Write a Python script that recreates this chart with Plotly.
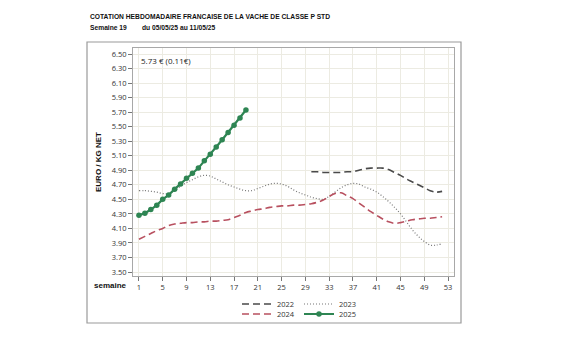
import plotly.graph_objects as go

weeks_2022 = list(range(30, 53))
vals_2022 = [4.88, 4.88, 4.87, 4.87, 4.87, 4.87, 4.88, 4.88, 4.90, 4.92, 4.93, 4.93, 4.93,
             4.91, 4.87, 4.83, 4.78, 4.74, 4.70, 4.66, 4.62, 4.60, 4.61]

weeks_2023 = list(range(1, 53))
vals_2023 = [4.62, 4.62, 4.61, 4.60, 4.58, 4.58, 4.62, 4.68, 4.73, 4.77, 4.81, 4.83, 4.82,
             4.78, 4.74, 4.70, 4.67, 4.64, 4.62, 4.62, 4.65, 4.68, 4.71, 4.72, 4.71, 4.68,
             4.63, 4.59, 4.56, 4.53, 4.51, 4.50, 4.54, 4.60, 4.66, 4.70, 4.72, 4.71, 4.67,
             4.64, 4.60, 4.54, 4.47, 4.39, 4.30, 4.19, 4.08, 3.99, 3.92, 3.87, 3.87, 3.89]

weeks_2024 = list(range(1, 53))
vals_2024 = [3.95, 3.99, 4.03, 4.07, 4.10, 4.14, 4.16, 4.17, 4.18, 4.18, 4.19, 4.19, 4.20,
             4.20, 4.21, 4.22, 4.25, 4.28, 4.32, 4.34, 4.36, 4.37, 4.39, 4.40, 4.41, 4.41,
             4.42, 4.42, 4.43, 4.44, 4.46, 4.49, 4.54, 4.58, 4.59, 4.55, 4.51, 4.45, 4.39,
             4.33, 4.28, 4.23, 4.19, 4.17, 4.18, 4.20, 4.22, 4.23, 4.24, 4.24, 4.25, 4.26]

weeks_2025 = list(range(1, 20))
vals_2025 = [4.28, 4.31, 4.36, 4.42, 4.50, 4.56, 4.64, 4.71, 4.79, 4.86, 4.93, 5.03,
             5.12, 5.22, 5.32, 5.42, 5.52, 5.62, 5.73]

x_ticks = list(range(1, 54, 4))
y_ticks = [round(3.5 + 0.2 * i, 2) for i in range(16)]

title_text = "COTATION HEBDOMADAIRE FRANCAISE DE LA VACHE DE CLASSE P STD"
week_text = "Semaine 19"
date_text = "du 05/05/25 au 11/05/25"
note_text = "5.73 € (0.11€)"

W, H = 563, 350
L, R, T, B = 133, 454, 48, 276

def px(x):
    return (x - L) / (R - L)

def py(y):
    return (B - y) / (B - T)

fig = go.Figure()
fig.add_trace(go.Scatter(x=weeks_2022, y=vals_2022, name="2022", mode="lines",
                         line=dict(color="#4a4a4a", width=1.6, dash="7px,4px", shape="spline"),
                         legend="legend"))
fig.add_trace(go.Scatter(x=weeks_2023, y=vals_2023, name="2023", mode="lines",
                         line=dict(color="#777777", width=1.2, dash="1px,2px", shape="spline"),
                         legend="legend"))
fig.add_trace(go.Scatter(x=weeks_2024, y=vals_2024, name="2024", mode="lines",
                         line=dict(color="#b8505f", width=1.6, dash="7px,4px", shape="spline"),
                         legend="legend2"))
fig.add_trace(go.Scatter(x=weeks_2025, y=vals_2025, name="2025", mode="lines+markers",
                         line=dict(color="#2e8553", width=2.2),
                         marker=dict(color="#2e8553", size=5.5),
                         legend="legend2"))

tick_font = dict(family="Open Sans", size=7.5, color="#333333")
fig.update_xaxes(range=[0, 54], tickmode="array", tickvals=x_ticks,
                 showgrid=True, gridcolor="#ecebe2", gridwidth=1,
                 showline=True, linecolor="#a8a8a8", linewidth=1, mirror=True,
                 ticks="outside", ticklen=4, tickcolor="#777777",
                 tickfont=tick_font, zeroline=False)
fig.update_yaxes(range=[3.445, 6.583], tickmode="array", tickvals=y_ticks,
                 ticktext=[f"{v:.2f}" for v in y_ticks],
                 showgrid=True, gridcolor="#ecebe2", gridwidth=1,
                 showline=True, linecolor="#a8a8a8", linewidth=1, mirror=True,
                 ticks="outside", ticklen=4, tickcolor="#777777",
                 tickfont=tick_font, zeroline=False)

leg_common = dict(orientation="h", font=dict(family="Open Sans", size=7.5, color="#333333"),
                  bgcolor="rgba(0,0,0,0)", xanchor="left", yanchor="middle",
                  entrywidth=17, itemwidth=30, tracegroupgap=0)
fig.update_layout(
    width=W, height=H,
    margin=dict(l=L, r=W - R, t=T, b=H - B, pad=0),
    paper_bgcolor="white", plot_bgcolor="white",
    showlegend=True,
    legend=dict(x=px(237), y=py(304), **leg_common),
    legend2=dict(x=px(237), y=py(314), **leg_common),
    shapes=[dict(type="rect", xref="paper", yref="paper",
                 x0=px(87), x1=px(461), y0=py(323), y1=py(42),
                 line=dict(color="#9a9a9a", width=1.2), fillcolor="rgba(0,0,0,0)")],
    annotations=[
        dict(text=f"<b>{title_text}</b>", xref="paper", yref="paper", x=px(88), y=py(16),
             xanchor="left", yanchor="middle", showarrow=False,
             font=dict(family="Liberation Sans", size=6.7, color="#111111")),
        dict(text=f"<b>{week_text}</b>", xref="paper", yref="paper", x=px(88), y=py(28),
             xanchor="left", yanchor="middle", showarrow=False,
             font=dict(family="Liberation Sans", size=6.7, color="#111111")),
        dict(text=f"<b>{date_text}</b>", xref="paper", yref="paper", x=px(140), y=py(28),
             xanchor="left", yanchor="middle", showarrow=False,
             font=dict(family="Liberation Sans", size=6.7, color="#111111")),
        dict(text=note_text, xref="paper", yref="paper", x=px(139), y=py(61),
             xanchor="left", yanchor="middle", showarrow=False,
             font=dict(family="Open Sans", size=8, color="#222222")),
        dict(text="<b>EURO / KG NET</b>", xref="paper", yref="paper", x=px(98), y=py(162),
             xanchor="center", yanchor="middle", showarrow=False, textangle=-90,
             font=dict(family="Liberation Sans", size=8, color="#111111")),
        dict(text="<b>semaine</b>", xref="paper", yref="paper", x=px(129), y=py(285),
             xanchor="right", yanchor="middle", showarrow=False,
             font=dict(family="Liberation Sans", size=8, color="#111111")),
    ],
)

fig.write_html("out.html")
